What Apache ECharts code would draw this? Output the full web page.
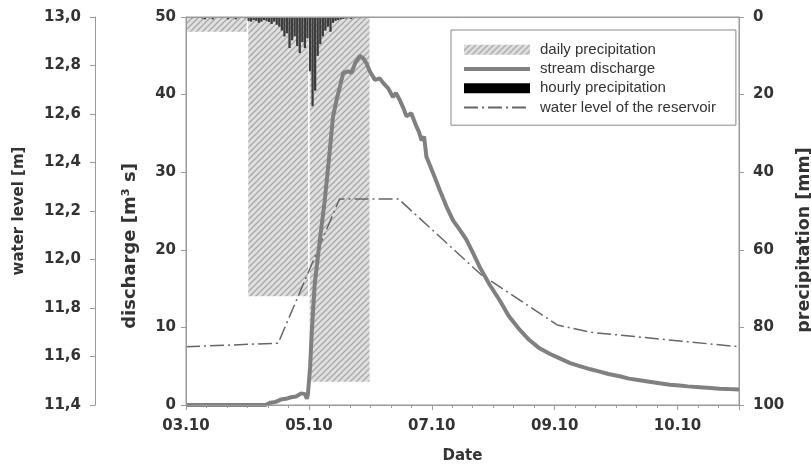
<!DOCTYPE html>
<html><head><meta charset="utf-8">
<script src="https://cdn.jsdelivr.net/npm/echarts@6/dist/echarts.min.js"></script>
<style>html,body{margin:0;padding:0;background:#fff}#c{width:811px;height:466px}</style>
</head><body><div id="c"></div>
<script>
// x axis in hours since 03.10 00:00; a major label every 48 h
const dateLabels = ['03.10', '05.10', '07.10', '09.10', '10.10'];
const dayStartHours = [0, 24, 48];
const dailyPrecip = [3.8, 72, 94];               // mm per day
const hourlyPrecip = [                            // mm per hour, hours 0..71
  0, 0, 0.3, 0, 0, 0, 0.4, 0.6, 0, 0.3, 0.6, 0, 0, 0, 0.3, 0, 0.6, 0.3, 0, 0.6, 0.3, 0, 0, 0.3,
  1.0, 1.2, 0.8, 1.0, 1.5, 1.2, 0.8, 1.0, 1.3, 1.8, 1.2, 2.0, 2.5, 3.5, 5.0, 4.2, 8.0, 6.0, 5.0, 7.5, 9.3, 6.5, 8.0, 5.5,
  14, 23, 19, 10, 7, 5, 3.5, 2.5, 3.8, 1.5, 1.0, 0.8, 0.6, 0.5, 0.4, 0.3, 0.5, 0.3, 0.3, 0.2, 0.3, 0.2, 0.2, 0
];
const dischargeHours = [0, 31, 33, 35, 37, 39, 41, 43, 45, 46.5, 47.2, 47.6, 48.5, 49.1, 50.3, 52.3, 54.2, 56.2, 57.4, 58.8,
  60.1, 61.4, 63.2, 64.7, 66, 67.9, 69.2, 70.5, 71.8, 73.8, 75.7, 77, 79, 80.8, 82, 83.5, 85, 86.1, 88, 90, 91, 92, 93, 93.9,
  96.5, 99.1, 101.7, 104.3, 106.9, 109.5, 112.1, 114.7, 118.6, 122.5, 126, 130.3, 134, 138.1, 142, 146, 150, 153.8, 158,
  161.6, 165, 169.4, 173, 177.2, 181, 185, 189, 192.8, 196, 200.6, 205, 208.4, 212, 216];
const dischargeValues = [0, 0, 0.3, 0.4, 0.7, 0.8, 1.0, 1.1, 1.5, 1.4, 0.8, 1.3, 5, 9.3, 15.7, 21.3, 26.4, 32.9, 37.1, 39.3,
  41, 42.8, 43, 42.8, 44, 45, 44.7, 44, 43, 41.9, 42.1, 41.5, 40.8, 39.7, 40.2, 39.3, 38.2, 37.2, 37.6, 35.9, 35.2, 34.1, 34.6, 32,
  29.9, 27.7, 25.6, 23.8, 22.6, 21.3, 19.6, 17.8, 15.5, 13.5, 11.5, 9.7, 8.4, 7.3, 6.6, 6.0, 5.4, 5.0, 4.6,
  4.3, 4.0, 3.7, 3.4, 3.2, 3.0, 2.8, 2.6, 2.5, 2.4, 2.3, 2.2, 2.1, 2.05, 2.0];
const levelHours = [0, 36, 60, 83, 115, 145, 158, 216];
const levelValues = [11.64, 11.655, 12.25, 12.25, 11.94, 11.73, 11.70, 11.64];

const FONT = 'DejaVu Sans';
const TXT = '#333';
const AX = '#9a9a9a';

function makeHatch() {
  const c = document.createElement('canvas'); c.width = 6; c.height = 6;
  const g = c.getContext('2d');
  g.fillStyle = '#e0e0e0'; g.fillRect(0, 0, 6, 6);
  g.strokeStyle = '#a8a8a8'; g.lineWidth = 1.3;
  g.beginPath();
  g.moveTo(0, 6); g.lineTo(6, 0);
  g.moveTo(-1, 1); g.lineTo(1, -1);
  g.moveTo(5, 7); g.lineTo(7, 5);
  g.stroke();
  return c;
}
const hatch = { image: makeHatch(), repeat: 'repeat' };

const chart = echarts.init(document.getElementById('c'), null, { renderer: 'canvas' });
const labelStyle = { fontFamily: FONT, fontWeight: 'bold', fontSize: 15, color: TXT };
const nameStyle = { fontFamily: FONT, fontWeight: 'bold', fontSize: 15, color: TXT };
const noSymbol = { opacity: 0, color: 'transparent', borderWidth: 0 };

chart.setOption({
  animation: false,
  backgroundColor: '#fff',
  grid: { left: 186, right: 72, top: 17, bottom: 61, containLabel: false, outerBoundsMode: 'none',
          show: true, borderColor: AX, borderWidth: 1 },
  legend: {
    orient: 'vertical', left: 451, top: 30,
    padding: [10, 20, 8, 11],
    borderColor: '#888', borderWidth: 1, backgroundColor: '#fff',
    itemWidth: 66, itemHeight: 10, itemGap: 0,
    textStyle: { fontFamily: 'Liberation Sans', fontSize: 15, color: TXT, lineHeight: 19.3, padding: [0, 0, 0, 5] },
    data: [
      { name: 'daily precipitation', icon: 'rect' },
      { name: 'stream discharge', itemStyle: noSymbol, lineStyle: { width: 4, color: '#808080' } },
      { name: 'hourly precipitation', icon: 'rect' },
      { name: 'water level of the reservoir', itemStyle: noSymbol }
    ]
  },
  xAxis: [{
    type: 'value', min: 0, max: 216, interval: 48, z: 10,
    name: 'Date', nameLocation: 'middle', nameGap: 44, nameTextStyle: nameStyle,
    axisLine: { show: true, onZero: false, lineStyle: { color: AX, width: 1 } },
    axisTick: { show: true, length: 5, lineStyle: { color: AX } },
    minorTick: { show: true, splitNumber: 6, length: 3, lineStyle: { color: AX } },
    axisLabel: Object.assign({ margin: 14, formatter: v => dateLabels[Math.round(v / 48)] || '' }, labelStyle),
    splitLine: { show: false }
  }, {
    type: 'value', min: 0, max: 216, position: 'top', z: 10,
    axisLine: { show: true, onZero: false, lineStyle: { color: AX, width: 1 } },
    axisTick: { show: false }, axisLabel: { show: false }, splitLine: { show: false }
  }],
  yAxis: [{
    type: 'value', min: 0, max: 50, interval: 10, position: 'left', z: 10,
    name: 'discharge [m³ s]', nameLocation: 'middle', nameGap: 47,
    nameTextStyle: Object.assign({}, nameStyle, { fontSize: 18, padding: [0, 70, 0, 0] }),
    axisLine: { show: true, onZero: false, lineStyle: { color: AX } },
    axisTick: { show: true, length: 5, lineStyle: { color: AX } },
    axisLabel: Object.assign({ margin: 10 }, labelStyle),
    splitLine: { show: false }
  }, {
    type: 'value', min: 11.4, max: 13.0, interval: 0.2, position: 'left', offset: 91, z: 10,
    name: 'water level [m]', nameLocation: 'middle', nameGap: 68, nameTextStyle: nameStyle,
    axisLine: { show: true, onZero: false, lineStyle: { color: AX } },
    axisTick: { show: true, length: 5, lineStyle: { color: AX } },
    axisLabel: Object.assign({ margin: 14, formatter: v => v.toFixed(1).replace('.', ',') }, labelStyle),
    splitLine: { show: false }
  }, {
    type: 'value', min: 0, max: 100, interval: 20, position: 'right', inverse: true, z: 10,
    name: 'precipitation [mm]', nameLocation: 'middle', nameRotate: 90, nameGap: 50,
    nameTextStyle: Object.assign({}, nameStyle, { fontSize: 17.5, padding: [0, 58, 0, 0] }),
    axisLine: { show: true, onZero: false, lineStyle: { color: AX } },
    axisTick: { show: true, length: 5, lineStyle: { color: AX } },
    axisLabel: Object.assign({ margin: 14 }, labelStyle),
    splitLine: { show: false }
  }],
  series: [{
    name: 'daily precipitation', type: 'custom', xAxisIndex: 0, yAxisIndex: 2, z: 1,
    itemStyle: { color: hatch },
    encode: { x: [0, 1], y: 2 },
    data: dailyPrecip.map((v, i) => [dayStartHours[i], dayStartHours[i] + 24, v]),
    renderItem: (params, api) => {
      const p0 = api.coord([api.value(0), 0]);
      const p1 = api.coord([api.value(1), api.value(2)]);
      return { type: 'rect',
        shape: { x: p0[0] + 0.8, y: p0[1], width: p1[0] - p0[0] - 1.6, height: p1[1] - p0[1] },
        style: { fill: hatch } };
    }
  }, {
    name: 'stream discharge', type: 'line', xAxisIndex: 0, yAxisIndex: 0, z: 5,
    symbol: 'none', showSymbol: false, color: '#808080',
    lineStyle: { color: '#808080', width: 4 },
    data: dischargeHours.map((h, i) => [h, dischargeValues[i]])
  }, {
    name: 'hourly precipitation', type: 'custom', xAxisIndex: 0, yAxisIndex: 2, z: 3,
    itemStyle: { color: '#000' },
    encode: { x: [0, 1], y: 2 },
    data: hourlyPrecip.map((v, i) => [i, i + 1, v]),
    renderItem: (params, api) => {
      const p0 = api.coord([api.value(0), 0]);
      const p1 = api.coord([api.value(1), api.value(2)]);
      return { type: 'rect',
        shape: { x: p0[0], y: p0[1], width: p1[0] - p0[0] - 0.3, height: p1[1] - p0[1] },
        style: { fill: '#3c3c3c' } };
    }
  }, {
    name: 'water level of the reservoir', type: 'line', xAxisIndex: 0, yAxisIndex: 1, z: 4,
    symbol: 'none', showSymbol: false, color: '#666',
    lineStyle: { color: '#666', width: 1.5, type: [14, 4, 2, 4] },
    data: levelHours.map((h, i) => [h, levelValues[i]])
  }]
});
</script></body></html>
